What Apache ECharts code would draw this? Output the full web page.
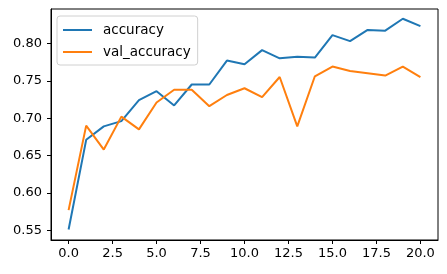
<!DOCTYPE html>
<html>
<head>
<meta charset="utf-8">
<script src="https://cdn.jsdelivr.net/npm/echarts@6/dist/echarts.min.js"></script>
<style>html,body{margin:0;padding:0;background:#fff}#c{width:447px;height:274px}</style>
</head>
<body>
<div id="c"></div>
<script>
const epochs = [0,1,2,3,4,5,6,7,8,9,10,11,12,13,14,15,16,17,18,19,20];
const accuracy = [0.551,0.671,0.689,0.696,0.724,0.736,0.717,0.745,0.745,0.777,0.772,0.791,0.780,0.782,0.781,0.811,0.803,0.818,0.817,0.833,0.823];
const valAccuracy = [0.577,0.690,0.658,0.702,0.685,0.721,0.738,0.738,0.716,0.731,0.740,0.728,0.755,0.689,0.756,0.769,0.763,0.760,0.757,0.769,0.755];
const xTicks = [0,2.5,5,7.5,10,12.5,15,17.5,20];
const yTicks = [0.55,0.60,0.65,0.70,0.75,0.80];
const seriesNames = ['accuracy','val_accuracy'];

const font = 'DejaVu Sans';
const chart = echarts.init(document.getElementById('c'), null, {renderer:'canvas'});
const pair = arr => epochs.map((e,i)=>[e,arr[i]]);
chart.setOption({
  animation:false,
  backgroundColor:'#fff',
  grid:{left:51,right:9,top:9,bottom:34,show:true,borderColor:'#000',borderWidth:1,backgroundColor:'transparent'},
  legend:{
    orient:'vertical',left:57,top:16,
    padding:[7,7,6,5],itemGap:8,itemWidth:29,itemHeight:14,
    borderColor:'#d0d0d0',borderWidth:1,borderRadius:3,backgroundColor:'rgba(255,255,255,0.8)',
    itemStyle:{opacity:0},
    lineStyle:{width:2},
    textStyle:{fontFamily:font,fontSize:13.5,color:'#000',padding:[0,0,0,6]},
    data:seriesNames
  },
  xAxis:{
    type:'value',min:-1,max:21,
    splitLine:{show:false},
    axisLine:{show:true,onZero:false,lineStyle:{color:'#000',width:1}},
    axisTick:{show:true,length:4,customValues:xTicks,lineStyle:{color:'#000'}},
    axisLabel:{customValues:xTicks,margin:7,fontFamily:font,fontSize:13,color:'#000',formatter:v=>v.toFixed(1)}
  },
  yAxis:{
    type:'value',min:0.537,max:0.846,
    splitLine:{show:false},
    axisLine:{show:true,onZero:false,lineStyle:{color:'#000',width:1}},
    axisTick:{show:true,length:4,customValues:yTicks,lineStyle:{color:'#000'}},
    axisLabel:{customValues:yTicks,margin:9,fontFamily:font,fontSize:13,color:'#000',formatter:v=>v.toFixed(2)}
  },
  series:[
    {name:seriesNames[0],type:'line',data:pair(accuracy),symbol:'none',lineStyle:{color:'#1f77b4',width:2},itemStyle:{color:'#1f77b4'}},
    {name:seriesNames[1],type:'line',data:pair(valAccuracy),symbol:'none',lineStyle:{color:'#ff7f0e',width:2},itemStyle:{color:'#ff7f0e'}}
  ]
});
</script>
</body>
</html>
